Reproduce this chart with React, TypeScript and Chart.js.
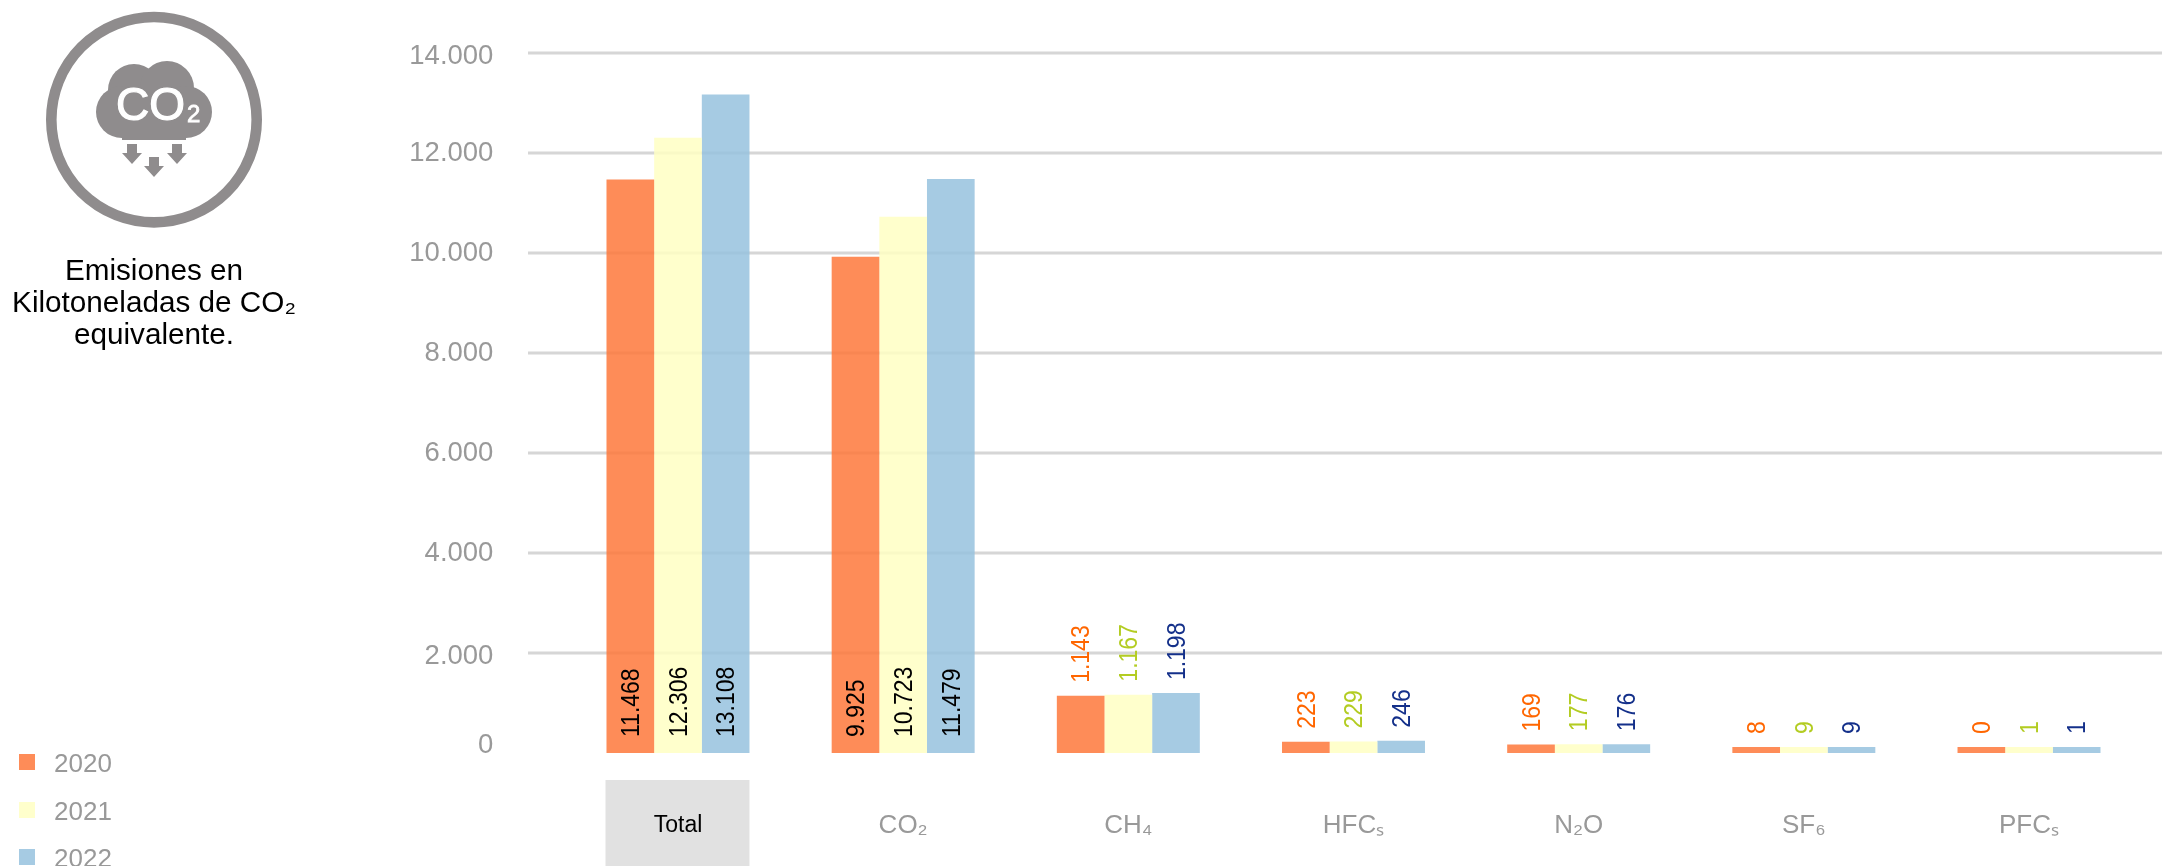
import React, { useEffect, useRef } from "react";
import { Chart, registerables } from "chart.js";

Chart.register(...registerables);

const categories = ["Total", "CO₂", "CH₄", "HFCₛ", "N₂O", "SF₆", "PFCₛ"];
const years = ["2020", "2021", "2022"];

// Bar heights
const values2020 = [11468, 9925, 1143, 223, 169, 8, 0];
const values2021 = [12306, 10723, 1167, 229, 177, 9, 1];
const values2022 = [13168, 11479, 1198, 246, 176, 9, 1];

// Labels as printed in the picture
const labels2020 = ["11.468", "9.925", "1.143", "223", "169", "8", "0"];
const labels2021 = ["12.306", "10.723", "1.167", "229", "177", "9", "1"];
const labels2022 = ["13.108", "11.479", "1.198", "246", "176", "9", "1"];

const yTicks = [0, 2000, 4000, 6000, 8000, 10000, 12000, 14000];

const seriesValues = [values2020, values2021, values2022];
const seriesLabels = [labels2020, labels2021, labels2022];
const barColors = ["rgba(254,120,59,0.85)", "rgba(255,255,195,0.85)", "rgba(151,194,222,0.85)"];
const labelColors = ["#ff6600", "#b3cc22", "#14308a"];

const GRAY = "#999999";
const FONT = '"Liberation Sans", Arial, sans-serif';
const tickShift: Record<number, number> = { 0: -8, 2000: 3, 14000: 3 };

const fmt = (v: number) => String(v).replace(/\B(?=(\d{3})+$)/g, ".");

const backdropPlugin = {
  id: "backdrop",
  beforeDraw(chart: any) {
    const first = chart.getDatasetMeta(0).data[0];
    const last = chart.getDatasetMeta(2).data[0];
    if (!first || !last) return;
    const ctx = chart.ctx;
    const left = first.x - first.width / 2 - 1;
    const right = last.x + last.width / 2;
    ctx.save();
    ctx.fillStyle = "#e1e1e1";
    ctx.fillRect(left, chart.chartArea.bottom + 27, right - left, chart.height);
    ctx.restore();
  },
  beforeDatasetsDraw(chart: any) {
    const ctx = chart.ctx;
    const y = chart.scales.y;
    ctx.save();
    ctx.strokeStyle = "#d6d6d6";
    ctx.lineWidth = 3;
    yTicks.slice(1).forEach((t) => {
      const py = y.getPixelForValue(t);
      ctx.beginPath();
      ctx.moveTo(528, py);
      ctx.lineTo(chart.width, py);
      ctx.stroke();
    });
    ctx.restore();
  },
};

const valueLabelPlugin = {
  id: "valueLabels",
  afterDatasetsDraw(chart: any) {
    const ctx = chart.ctx;
    seriesLabels.forEach((labels, ds) => {
      chart.getDatasetMeta(ds).data.forEach((bar: any, i: number) => {
        const height = bar.base - bar.y;
        const inside = height > 200;
        ctx.save();
        ctx.translate(bar.x, inside ? bar.base - 16 : bar.y - 13);
        ctx.rotate(-Math.PI / 2);
        ctx.scale(1, 1.12);
        ctx.font = `23px ${FONT}`;
        ctx.textAlign = "left";
        ctx.textBaseline = "middle";
        ctx.fillStyle = inside ? "#000000" : labelColors[ds];
        ctx.fillText(labels[i], 0, 1.5);
        ctx.restore();
      });
    });
  },
};

function Icon() {
  const arrows = [
    [132, 144],
    [154, 157],
    [177, 144],
  ];
  return (
    <svg width="308" height="240" style={{ position: "absolute", left: 0, top: 0 }}>
      <circle cx="154" cy="119.7" r="102.7" fill="none" stroke="#8f8c8d" strokeWidth="10.6" />
      <g fill="#8f8c8d">
        <circle cx="134" cy="90" r="26" />
        <circle cx="167" cy="88" r="27" />
        <circle cx="122" cy="112" r="26" />
        <circle cx="186" cy="112" r="26" />
        <rect x="122" y="96" width="64" height="44" />
        {arrows.map(([x, y], i) => (
          <polygon
            key={i}
            points={`${x - 5},${y} ${x + 5},${y} ${x + 5},${y + 9} ${x + 10},${y + 9} ${x},${y + 20} ${x - 10},${y + 9} ${x - 5},${y + 9}`}
          />
        ))}
      </g>
      <text x="116" y="120" fontFamily={FONT} fontSize="46" fill="#fff" stroke="#fff" strokeWidth="1.2">
        CO
      </text>
      <text x="187" y="122" fontFamily={FONT} fontSize="24" fill="#fff" stroke="#fff" strokeWidth="0.8">
        2
      </text>
    </svg>
  );
}

export default function App() {
  const ref = useRef<HTMLCanvasElement>(null);

  useEffect(() => {
    const chart = new Chart(ref.current as HTMLCanvasElement, {
      type: "bar",
      data: {
        labels: categories,
        datasets: years.map((label, i) => ({
          label,
          data: seriesValues[i],
          backgroundColor: barColors[i],
          borderWidth: 0,
          minBarLength: 6,
          categoryPercentage: 0.635,
          barPercentage: 1,
        })),
      },
      plugins: [backdropPlugin, valueLabelPlugin],
      options: {
        animation: false,
        responsive: false,
        maintainAspectRatio: false,
        layout: { padding: { left: 365.4, right: 20.4, top: 53, bottom: 0 } },
        plugins: { legend: { display: false }, title: { display: false }, tooltip: { enabled: false } },
        scales: {
          x: {
            grid: { display: false },
            border: { display: false },
            afterFit: (s: any) => {
              s.height = 113;
              s.paddingLeft = 0;
              s.paddingRight = 0;
            },
            ticks: {
              autoSkip: false,
              maxRotation: 0,
              minRotation: 0,
              padding: 49,
              color: (c: any) => (c.index === 0 ? "#000000" : GRAY),
              font: (c: any) =>
                c.index === 0
                  ? { family: FONT, size: 23, lineHeight: "31px" }
                  : { family: FONT, size: 26 },
            },
          },
          y: {
            min: 0,
            max: 14000,
            grid: { display: false },
            border: { display: false },
            afterFit: (s: any) => {
              s.width = 200;
              s.paddingTop = 0;
              s.paddingBottom = 0;
            },
            afterBuildTicks: (s: any) => {
              s.ticks = yTicks.map((value) => ({ value }));
            },
            ticks: {
              padding: 64,
              color: GRAY,
              font: (c: any) => {
                const shift = tickShift[c.tick?.value] || 0;
                return { family: FONT, size: 27.5, lineHeight: shift ? `${Math.abs(shift) * 2}px` : 1.2 };
              },
              callback: (v: any) => {
                const s = fmt(Number(v));
                const shift = tickShift[Number(v)] || 0;
                if (shift < 0) return [s, ""];
                if (shift > 0) return ["", s];
                return s;
              },
            },
          },
        },
      },
    } as any);
    return () => chart.destroy();
  }, []);

  return (
    <div
      style={{
        position: "fixed",
        left: 0,
        top: 0,
        width: 2162,
        height: 866,
        overflow: "hidden",
        background: "#fff",
        fontFamily: FONT,
      }}
    >
      <canvas ref={ref} width={2162} height={866} style={{ position: "absolute", left: 0, top: 0, width: 2162, height: 866 }} />
      <Icon />
      <div
        style={{
          position: "absolute",
          left: 0,
          top: 254,
          width: 308,
          textAlign: "center",
          fontSize: 29.7,
          lineHeight: "32px",
          color: "#000",
        }}
      >
        Emisiones en
        <br />
        Kilotoneladas de CO₂
        <br />
        equivalente.
      </div>
      {years.map((y, i) => (
        <div key={y}>
          <div
            style={{
              position: "absolute",
              left: 19,
              top: 754 + i * 47.5,
              width: 16,
              height: 16,
              background: barColors[i],
            }}
          />
          <div
            style={{
              position: "absolute",
              left: 54,
              top: 748 + i * 47.5,
              fontSize: 26,
              lineHeight: "30px",
              color: GRAY,
            }}
          >
            {y}
          </div>
        </div>
      ))}
    </div>
  );
}
